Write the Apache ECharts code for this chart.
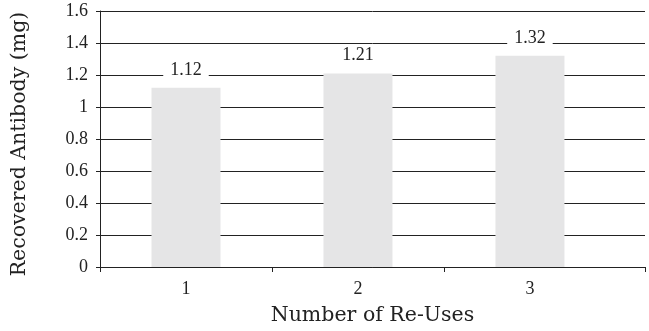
<!DOCTYPE html>
<html>
<head>
<meta charset="utf-8">
<script src="https://cdn.jsdelivr.net/npm/echarts@6/dist/echarts.min.js"></script>
<style>
  html, body { margin: 0; padding: 0; background: #fff; }
  #chart { width: 649px; height: 331px; }
</style>
</head>
<body>
<div id="chart"></div>
<script>
// Recovered antibody per number of re-uses
const reUses = [1, 2, 3];
const recovered = [1.12, 1.21, 1.32];
const yTicks = [0, 0.2, 0.4, 0.6, 0.8, 1, 1.2, 1.4, 1.6];

const TITLE_FONT = 'DejaVu Serif';
const NUM_FONT = 'Liberation Serif';
const INK = '#222';

const chart = echarts.init(document.getElementById('chart'), null, { renderer: 'canvas' });

chart.setOption({
  animation: false,
  backgroundColor: '#fff',
  grid: { left: 100, right: 4, top: 11, bottom: 64, containLabel: false, outerBoundsMode: 'none' },
  xAxis: {
    type: 'value',
    min: 0.5,
    max: 3.669,
    name: 'Number of Re-Uses',
    nameLocation: 'middle',
    nameGap: 38,
    nameTextStyle: { fontFamily: TITLE_FONT, fontSize: 20.5, color: INK },
    axisLine: { show: true, lineStyle: { color: INK, width: 1 } },
    axisTick: { show: true, length: 5, lineStyle: { color: INK }, customValues: [0.5, 1.5, 2.5, 3.669] },
    axisLabel: { fontFamily: NUM_FONT, fontSize: 18, color: INK, margin: 13, customValues: reUses },
    splitLine: { show: false }
  },
  yAxis: {
    type: 'value',
    min: yTicks[0],
    max: yTicks[yTicks.length - 1],
    interval: 0.2,
    name: 'Recovered Antibody (mg)',
    nameLocation: 'middle',
    nameGap: 70,
    nameTextStyle: { fontFamily: TITLE_FONT, fontSize: 20.5, color: INK, padding: [0, 10, 0, 0] },
    axisLine: { show: true, lineStyle: { color: INK, width: 1 } },
    axisTick: { show: true, length: 4, lineStyle: { color: INK } },
    axisLabel: { fontFamily: NUM_FONT, fontSize: 18, color: INK, margin: 12 },
    splitLine: { show: true, lineStyle: { color: INK, width: 1 } }
  },
  series: [{
    type: 'bar',
    data: reUses.map((x, i) => [x, recovered[i]]),
    barWidth: 69,
    itemStyle: { color: '#e5e5e6' },
    label: {
      show: true,
      position: 'top',
      distance: 7,
      formatter: p => p.value[1].toFixed(2),
      fontFamily: NUM_FONT,
      fontSize: 18,
      color: INK,
      backgroundColor: '#fff',
      padding: [2, 7]
    }
  }]
});
</script>
</body>
</html>
